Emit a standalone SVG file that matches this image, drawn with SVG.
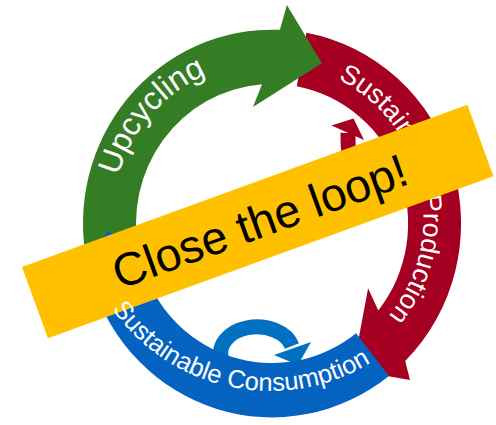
<svg xmlns="http://www.w3.org/2000/svg" width="496" height="425" viewBox="0 0 496 425">
  <style>
    .lbl { font-family: "Liberation Sans", Arial, sans-serif; fill: #ffffff; }
    .big { font-family: "Liberation Sans", Arial, sans-serif; fill: #000000; font-size: 46.5px; }
    .red { fill: #A50021; }
    .green { fill: #357D24; }
    .blue { fill: #0462C1; }
    .loopB { fill: none; stroke: #0070C0; stroke-width: 15; }
    .loopR { fill: none; stroke: #A50021; stroke-width: 15; }
  </style>
  <defs>
    <path id="pUp" d="M 121.1 268.5 A 156 156 0 0 1 298.4 64.6"/>
    <path id="pProd" d="M 316.5 70.3 A 155 155 0 0 1 372.3 332.9"/>
    <path id="pCons" d="M 88.1 262.4 A 193 193 0 0 0 416.8 323.3"/>
  </defs>
  <rect width="496" height="425" fill="#ffffff"/>

  <g id="connectors">
    <g id="loop-production">
      <path class="loopR" d="M 402 170 C 398 215 346 205 348 133"/>
      <polygon class="red" points="331.5,125.5 353.5,118.5 364,140"/>
    </g>
    <g id="loop-consumption">
      <path class="loopB" d="M 222 360 A 36 26 0 0 1 292 346"/>
      <polygon fill="#0070C0" points="311,342 274,355 298,365"/>
    </g>
  </g>

  <g id="sustainable-production">
    <path class="red" d="M 306.4 32.8 A 189 193.9 0 0 1 405.2 361.1 L 410 380 L 352.8 370.0 L 368.1 288.3 L 378.3 310.6 A 136 139.5 0 0 0 296.8 86.3 Z"/>
    <text class="lbl" font-size="27"><textPath href="#pProd" startOffset="50%" text-anchor="middle">Sustainable Production</textPath></text>
  </g>

  <g id="upcycling">
    <path class="green" d="M 87.1 263.8 A 189 193.9 0 0 1 279.9 29.8 L 286.9 5.0 L 321.9 63.2 L 253.0 107.1 L 262.0 84.3 A 136 139.5 0 0 0 139.0 252.5 Z"/>
    <text class="lbl" font-size="32"><textPath href="#pUp" startOffset="50%" text-anchor="middle">Upcycling</textPath></text>
  </g>

  <g id="sustainable-consumption">
    <path class="blue" d="M 388.9 375.9 A 189 193.9 0 0 1 92.1 282.8 L 67.0 284.6 L 108.2 230.8 L 172.1 282.0 L 148.1 281.1 A 136 139.5 0 0 0 356.1 333.2 Z"/>
  </g>

  <g id="banner" transform="translate(257.7 221.6) rotate(-20)">
    <rect x="-237" y="-38" width="474" height="76" fill="#FFC000"/>
    <text class="big" x="2" y="16.5" text-anchor="middle">Close the loop!</text>
  </g>

  <g id="consumption-label">
    <text class="lbl" font-size="25.5"><textPath href="#pCons" startOffset="49%" text-anchor="middle">Sustainable Consumption</textPath></text>
  </g>
</svg>
